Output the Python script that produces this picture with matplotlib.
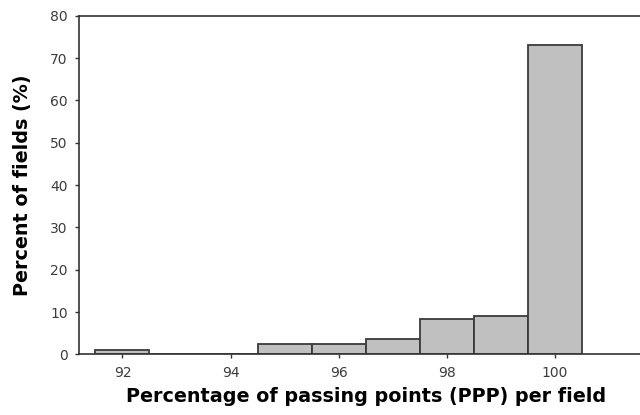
import matplotlib
matplotlib.use("Agg")
import matplotlib.pyplot as plt

# bins of the histogram (centre of each 1-point bin) and percent of fields
ppp_bins = [92, 93, 94, 95, 96, 97, 98, 99, 100]
percent_fields = [1.0, 0, 0, 2.5, 2.5, 3.6, 8.4, 9.0, 73.0]
x_ticks = [92, 94, 96, 98, 100]
y_ticks = [0, 10, 20, 30, 40, 50, 60, 70, 80]

plt.rcParams['font.family'] = ['DejaVu Sans']

fig = plt.figure(figsize=(6.4, 4.15), dpi=100)
ax = fig.add_axes([0.123, 0.146, 0.877, 0.816])

ax.bar(ppp_bins, percent_fields, width=1.0, color='#c0c0c0',
       edgecolor='#3a3a3a', linewidth=1.3)

ax.set_xlim(91.19, 101.58)
ax.set_ylim(0, 80)
ax.set_xticks(x_ticks)
ax.set_yticks(y_ticks)

ax.spines['right'].set_visible(False)
for s in ['left', 'bottom', 'top']:
    ax.spines[s].set_color('#333333')
    ax.spines[s].set_linewidth(1.2)

ax.tick_params(direction='out', length=3, width=1, colors='#333333',
               labelsize=10, labelcolor='#3c3c3c', pad=5)

ax.set_xlabel('Percentage of passing points (PPP) per field',
              fontsize=13.8, fontweight='bold', labelpad=6)
ax.set_ylabel('Percent of fields (%)', fontsize=13.8, fontweight='bold',
              labelpad=13)
# label sits a bit right of the axes centre in the original
ax.xaxis.set_label_coords(0.512, -0.095)

fig.savefig('out.png', dpi=100)
